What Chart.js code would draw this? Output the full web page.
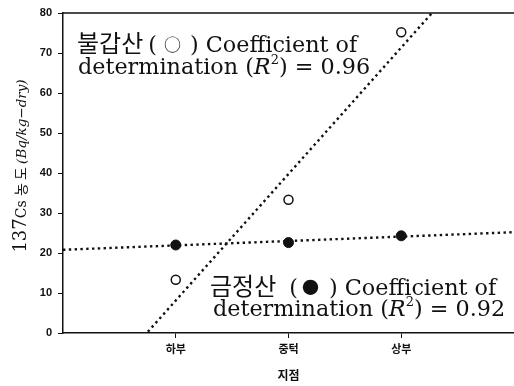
<!DOCTYPE html>
<html>
<head>
<meta charset="utf-8">
<script src="https://cdn.jsdelivr.net/npm/chart.js@4/dist/chart.umd.min.js"></script>
<style>
  html, body { margin: 0; padding: 0; background: #fff; }
  #wrap { width: 514px; height: 386px; }
</style>
</head>
<body>
<div id="wrap"><canvas id="c" width="514" height="386"></canvas></div>
<script>
// Sampling sites along the slope
const sites = ['하부', '중턱', '상부'];
const sitePositions = [1, 2, 3];

// 137Cs concentration (Bq/kg-dry) at each site
const bulgapsan = [13.3, 33.3, 75.2];     // open circles
const geumjeongsan = [22.0, 22.6, 24.3];  // filled circles

// Linear fit lines, given at the two ends of the x range
const fitX = [0, 4];
const bulgapsanFit = [-23.5, 103];
const geumjeongsanFit = [20.8, 25.2];

// Y axis ticks
const yTicks = [0, 10, 20, 30, 40, 50, 60, 70, 80];

const INK = '#111';
const SERIF = '"DejaVu Serif", "Liberation Serif", serif';
const CJK = '"Noto Sans CJK KR", sans-serif';
const SANS = '"Liberation Sans", Arial, sans-serif';

const toPoints = (xs, ys) => xs.map((x, i) => ({ x: x, y: ys[i] }));

// Draws a run of text pieces with their own fonts; "gap" adds space before a piece
function drawRich(ctx, x, y, segs) {
  for (const s of segs) {
    x += s.gap || 0;
    ctx.font = s.font;
    ctx.fillText(s.t, x, y + (s.dy || 0));
    x += ctx.measureText(s.t).width;
  }
}

const decorations = {
  id: 'decorations',
  afterDraw(chart) {
    const ctx = chart.ctx;
    const a = chart.chartArea;
    ctx.save();
    // top frame line
    ctx.strokeStyle = INK;
    ctx.lineWidth = 1.5;
    ctx.beginPath();
    ctx.moveTo(a.left, a.top);
    ctx.lineTo(a.right, a.top);
    ctx.stroke();

    ctx.fillStyle = INK;
    ctx.textBaseline = 'alphabetic';
    ctx.textAlign = 'left';

    const big = '22.3px ' + SERIF;
    const cjk = '24px ' + CJK;
    const mark = '17px ' + CJK;
    const ital = 'italic 22.3px ' + SERIF;
    const sup = '13px ' + SERIF;

    // 불갑산 note
    drawRich(ctx, a.left + 14, 52, [
      { t: '불갑산', font: cjk },
      { t: '(', font: big, gap: 5 },
      { t: '○', font: mark, gap: 7, dy: -1 },
      { t: ') Coefficient of', font: big, gap: 9 }
    ]);
    drawRich(ctx, a.left + 15, 74, [
      { t: 'determination (', font: big },
      { t: 'R', font: ital },
      { t: '2', font: sup, dy: -10 },
      { t: ') = 0.96', font: big }
    ]);

    // 금정산 note
    drawRich(ctx, a.left + 147, 295, [
      { t: '금정산', font: cjk },
      { t: '(', font: big, gap: 13 },
      { t: '●', font: mark, gap: 4, dy: -1 },
      { t: ') Coefficient of', font: big, gap: 10 }
    ]);
    drawRich(ctx, a.left + 150, 316, [
      { t: 'determination (', font: big },
      { t: 'R', font: ital },
      { t: '2', font: sup, dy: -10 },
      { t: ') = 0.92', font: big }
    ]);

    // Y axis title (rotated, mixed fonts)
    const ySegs = [
      { t: '137', font: '18px ' + SERIF },
      { t: 'Cs ', font: '14px ' + SERIF },
      { t: '농 도 ', font: '14px ' + CJK },
      { t: '(Bq/kg\u2212dry)', font: 'italic 13.5px ' + SERIF }
    ];
    let total = 0;
    for (const s of ySegs) { ctx.font = s.font; total += ctx.measureText(s.t).width; }
    ctx.translate(26, 166);
    ctx.rotate(-Math.PI / 2);
    drawRich(ctx, -total / 2, 0, ySegs);
    ctx.restore();
  }
};

new Chart(document.getElementById('c'), {
  type: 'scatter',
  data: {
    datasets: [
      {
        label: '불갑산',
        data: toPoints(sitePositions, bulgapsan),
        pointStyle: 'circle',
        pointRadius: 4.5,
        pointBorderWidth: 1.5,
        pointBackgroundColor: '#fff',
        pointBorderColor: INK,
        order: 1
      },
      {
        label: '금정산',
        data: toPoints(sitePositions, geumjeongsan),
        pointStyle: 'circle',
        pointRadius: 5,
        pointBorderWidth: 1,
        pointBackgroundColor: INK,
        pointBorderColor: INK,
        order: 1
      },
      {
        label: '불갑산 fit',
        data: toPoints(fitX, bulgapsanFit),
        showLine: true,
        pointRadius: 0,
        borderColor: INK,
        borderWidth: 2.4,
        borderDash: [2.4, 3.4],
        order: 2
      },
      {
        label: '금정산 fit',
        data: toPoints(fitX, geumjeongsanFit),
        showLine: true,
        pointRadius: 0,
        borderColor: INK,
        borderWidth: 2.4,
        borderDash: [2.4, 3.4],
        order: 2
      }
    ]
  },
  options: {
    responsive: false,
    animation: false,
    layout: { autoPadding: false, padding: { top: 13, right: 0, left: 0, bottom: 0 } },
    plugins: { legend: { display: false }, tooltip: { enabled: false } },
    scales: {
      x: {
        type: 'linear',
        min: 0,
        max: 4,
        afterBuildTicks: s => { s.ticks = sitePositions.map(v => ({ value: v })); },
        afterFit: s => { s.height = 53; s.paddingLeft = 0; s.paddingRight = 0; },
        ticks: {
          callback: v => sites[v - 1],
          color: INK,
          font: { family: CJK, size: 11, weight: 'bold' },
          padding: 4
        },
        grid: { drawOnChartArea: false, tickLength: 5, color: INK, tickWidth: 1 },
        border: { color: INK, width: 1.5 },
        title: {
          display: true,
          text: '지점',
          color: INK,
          font: { family: CJK, size: 12, weight: 'bold' },
          padding: { top: 0, bottom: 3 }
        }
      },
      y: {
        min: 0,
        max: 80,
        afterBuildTicks: s => { s.ticks = yTicks.map(v => ({ value: v })); },
        afterFit: s => { s.width = 63; },
        ticks: {
          color: INK,
          font: { family: SANS, size: 11, weight: 'bold' },
          padding: 6
        },
        grid: { drawOnChartArea: false, tickLength: 5, color: INK, tickWidth: 1 },
        border: { color: INK, width: 1.5 }
      }
    }
  },
  plugins: [decorations]
});
</script>
</body>
</html>
